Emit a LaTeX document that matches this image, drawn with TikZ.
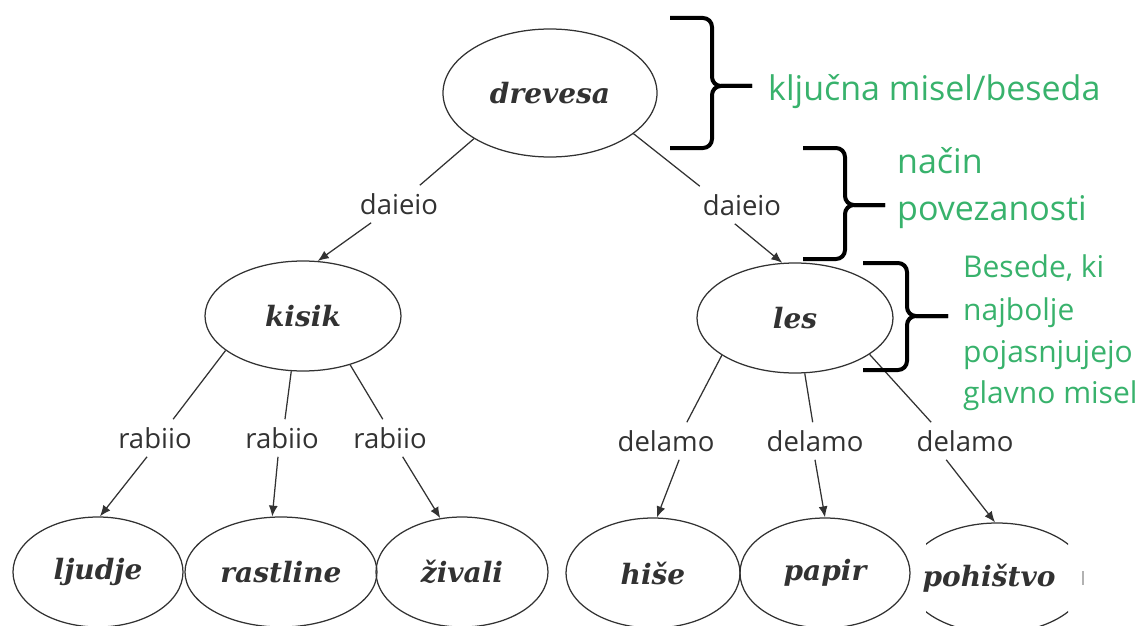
\documentclass[tikz,border=0pt]{standalone}
\usepackage{fontspec}
\setmainfont{DejaVu Serif}
\newfontfamily\lblfont{Open Sans}
\usetikzlibrary{arrows.meta,shapes.geometric}
\definecolor{grn}{RGB}{56,178,108}
\definecolor{ink}{RGB}{50,50,50}
\begin{document}
\begin{tikzpicture}[x=1pt,y=-1pt,
  concept/.style={ellipse,draw=ink,line width=1.25pt,inner sep=0pt,
    font=\fontsize{28}{30}\selectfont\itshape\bfseries,text=ink},
  lbl/.style={font=\lblfont\fontsize{27.5}{30}\selectfont,text=ink,inner sep=8pt},
  link/.style={draw=ink,line width=1.25pt},
  arr/.style={link,-{Latex[length=11pt,width=9pt]}},
  bracepath/.style={line width=4pt,rounded corners=9pt,draw=black},
  note/.style={font=\lblfont\fontsize{34}{40}\selectfont,text=grn,anchor=base west,inner sep=0pt},
  notesmall/.style={note,font=\lblfont\fontsize{30}{36}\selectfont}]
\useasboundingbox (0,0) rectangle (1144,626);

% concept nodes
\node[concept,minimum width=214pt,minimum height=128pt] (drevesa) at (550,93) {drevesa};
\node[concept,minimum width=196pt,minimum height=110pt] (kisik) at (303,316) {kisik};
\node[concept,minimum width=196pt,minimum height=110pt] (les) at (795,318) {les};
\node[concept,minimum width=170pt,minimum height=110pt] (ljudje) at (98,572) {ljudje};
\node[concept,minimum width=192pt,minimum height=110pt] (rastline) at (281,572) {rastline};
\node[concept,minimum width=172pt,minimum height=110pt] (zivali) at (462,572) {živali};
\node[concept,minimum width=174pt,minimum height=110pt] (hise) at (653,573) {hiše};
\node[concept,minimum width=170pt,minimum height=110pt] (papir) at (825,573) {papir};
\node[concept,draw=none,minimum width=180pt,minimum height=110pt] (pohistvo) at (997,578) {\hspace*{-16pt}pohištvo};
\begin{scope}
  \clip (926,500) rectangle (1068,626);
  \draw[ink,line width=1.25pt] (pohistvo.center) ellipse [x radius=90, y radius=55];
\end{scope}

% link labels
\node[lbl] (dL) at (399,204) {daieio};
\node[lbl] (dR) at (742,205) {daieio};
\node[lbl] (r1) at (155,438) {rabiio};
\node[lbl] (r2) at (282,438) {rabiio};
\node[lbl] (r3) at (390,438) {rabiio};
\node[lbl] (e1) at (666,441) {delamo};
\node[lbl] (e2) at (815,441) {delamo};
\node[lbl] (e3) at (965,441) {delamo};

% connectors
\draw[link] (drevesa.211) -- (dL.42);
\draw[arr] (dL.214) -- (kisik.75.5);
\draw[link] (drevesa.334) -- (dR.156);
\draw[arr] (dR.249) -- (les.103);
\draw[link] (kisik.204) -- (r1.46);
\draw[arr] (r1.247) -- (ljudje.88);
\draw[link] (kisik.258.5) -- (r2.81);
\draw[arr] (r2.258) -- (rastline.99.5);
\draw[link] (kisik.314) -- (r3.111);
\draw[arr] (r3.304) -- (zivali.112);
\draw[link] (les.207) -- (e1.42);
\draw[arr] (e1.305) -- (hise.86);
\draw[link] (les.280) -- (e2.97);
\draw[arr] (e2.270) -- (papir.90);
\draw[link] (les.334) -- (e3.151);
\draw[arr] (e3.225) -- (pohistvo.92);

% braces
\draw[bracepath] (670,18) -- (712,18) -- (712,86) -- (752,86);
\draw[bracepath] (670,148) -- (712,148) -- (712,86) -- (752,86);
\draw[bracepath] (803,148) -- (845,148) -- (845,205) -- (885,205);
\draw[bracepath] (803,259) -- (845,259) -- (845,205) -- (885,205);
\draw[bracepath] (863,263) -- (907,263) -- (907,316) -- (948,316);
\draw[bracepath] (863,370) -- (907,370) -- (907,316) -- (948,316);

% notes
\node[note] (n1) at (768,100) {ključna misel/beseda};
\node[note] (n2a) at (897,173) {način};
\node[note] (n2b) at (897,220) {povezanosti};
\node[notesmall] (n3a) at (963,277) {Besede, ki};
\node[notesmall] (n3b) at (963,320) {najbolje};
\node[notesmall] (n3c) at (963,362) {pojasnjujejo};
\node[notesmall] (n3d) at (963,403) {glavno misel};

% small mark
\draw[gray!60,line width=1.5pt] (1083,571) -- (1083,585);
\end{tikzpicture}
\end{document}
